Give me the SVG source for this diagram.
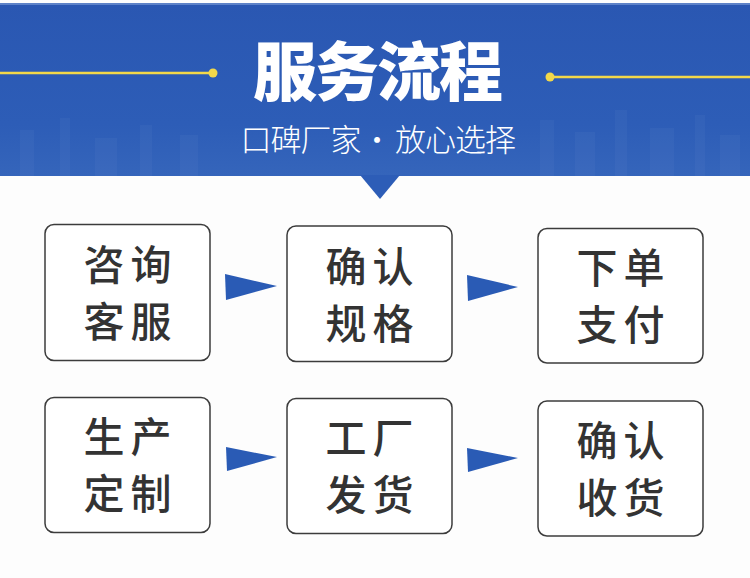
<svg xmlns="http://www.w3.org/2000/svg" width="750" height="578" viewBox="0 0 750 578">
  <defs>
    <linearGradient id="band" x1="0" y1="0" x2="0" y2="1">
      <stop offset="0" stop-color="#2a57b2"/>
      <stop offset="0.7" stop-color="#2d5db7"/>
      <stop offset="1" stop-color="#3565bb"/>
    </linearGradient>
    <style>
      .box { fill: #ffffff; stroke: #3c3c3c; stroke-width: 1.5; }
      .lbl { font-family: "Noto Sans CJK SC", "Noto Sans", sans-serif; font-size: 41px; fill: #333333; text-anchor: middle; letter-spacing: 6px; font-weight: 500; }
      .arrow { fill: #2a5bb5; }
      .gold { stroke: #f2d84a; stroke-width: 2.5; fill: none; }
      .dot { fill: #f2d84a; }
      .sky { fill: #ffffff; opacity: 0.03; }
    </style>
  </defs>

  <rect x="0" y="0" width="750" height="578" fill="#fdfdfd"/>

  <g id="header">
    <rect x="0" y="3" width="750" height="173" fill="url(#band)"/>
    <rect x="0" y="3" width="750" height="2" fill="#5d82c8"/>
    <g id="skyline">
      <rect class="sky" x="20" y="130" width="14" height="46"/>
      <rect class="sky" x="60" y="118" width="10" height="58"/>
      <rect class="sky" x="95" y="138" width="22" height="38"/>
      <rect class="sky" x="140" y="125" width="12" height="51"/>
      <rect class="sky" x="180" y="135" width="18" height="41"/>
      <rect class="sky" x="540" y="120" width="14" height="56"/>
      <rect class="sky" x="575" y="132" width="20" height="44"/>
      <rect class="sky" x="615" y="110" width="12" height="66"/>
      <rect class="sky" x="650" y="128" width="24" height="48"/>
      <rect class="sky" x="695" y="115" width="10" height="61"/>
      <rect class="sky" x="720" y="135" width="20" height="41"/>
    </g>
    <line class="gold" x1="0" y1="73" x2="213" y2="73"/>
    <circle class="dot" cx="213" cy="73" r="4.5"/>
    <line class="gold" x1="550" y1="77" x2="750" y2="77"/>
    <circle class="dot" cx="550" cy="77" r="4.5"/>
    <text x="377" y="95" font-family="'Noto Sans CJK SC', 'Noto Sans', sans-serif" font-size="64" font-weight="900" fill="#ffffff" text-anchor="middle" letter-spacing="-2">服务流程</text>
    <text y="151" font-family="'Noto Sans CJK SC', 'Noto Sans', sans-serif" font-size="31" font-weight="300" fill="#ffffff" text-anchor="middle"><tspan x="300.5" letter-spacing="-1">口碑厂家</tspan><tspan x="377">·</tspan><tspan x="455" letter-spacing="-1">放心选择</tspan></text>
    <polygon points="360,175 400,175 380,199" fill="#2d5db7"/>
  </g>

  <g id="n1">
    <rect class="box" x="45" y="224.5" width="165" height="136" rx="9"/>
    <text class="lbl" x="130.5" y="280">咨询</text>
    <text class="lbl" x="130.5" y="337">客服</text>
  </g>
  <g id="n2">
    <rect class="box" x="287" y="226" width="165" height="135.5" rx="9"/>
    <text class="lbl" x="372.5" y="282">确认</text>
    <text class="lbl" x="372.5" y="339">规格</text>
  </g>
  <g id="n3">
    <rect class="box" x="538" y="228.5" width="165" height="134.5" rx="9"/>
    <text class="lbl" x="623.5" y="283">下单</text>
    <text class="lbl" x="623.5" y="340">支付</text>
  </g>
  <g id="n4">
    <rect class="box" x="45" y="397.5" width="165" height="135" rx="9"/>
    <text class="lbl" x="130.5" y="452">生产</text>
    <text class="lbl" x="130.5" y="509">定制</text>
  </g>
  <g id="n5">
    <rect class="box" x="287" y="398.5" width="165" height="135" rx="9"/>
    <text class="lbl" x="372.5" y="453">工厂</text>
    <text class="lbl" x="372.5" y="510">发货</text>
  </g>
  <g id="n6">
    <rect class="box" x="538" y="401" width="165" height="135" rx="9"/>
    <text class="lbl" x="623.5" y="456">确认</text>
    <text class="lbl" x="623.5" y="513">收货</text>
  </g>

  <g id="connectors">
    <polygon class="arrow" points="225,274 226,300 277,286"/>
    <polygon class="arrow" points="467,275 468,301 518,287"/>
    <polygon class="arrow" points="226,447 227,471 277,457"/>
    <polygon class="arrow" points="467,448 468,472 518,458"/>
  </g>
</svg>
